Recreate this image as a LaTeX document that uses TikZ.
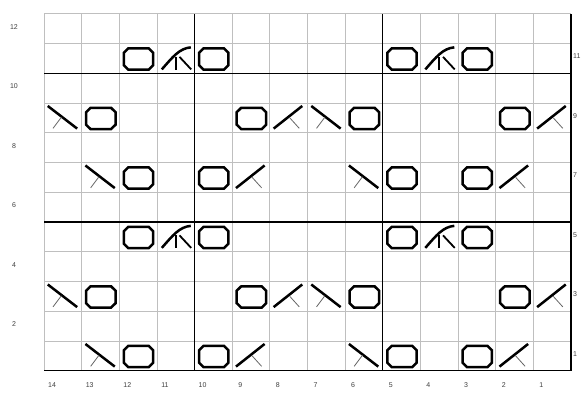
\documentclass[tikz,border=0pt]{standalone}
\usepackage{fontspec}
\setmainfont{Liberation Sans}
\begin{document}
\begin{tikzpicture}[x=1pt,y=1pt,
  gridthin/.style={draw=black!25, line width=0.8pt},
  gridthick/.style={draw=black, line width=1.3pt},
  sym/.style={line width=2.5pt, line cap=butt, line join=miter},
  symmid/.style={line width=1.8pt, line cap=butt},
  tick/.style={line width=0.8pt, draw=black!60},
  lbl/.style={font=\fontsize{7}{8}\selectfont, text=black!75, inner sep=0pt},
  cellunits/.style={x=37.643pt,y=29.75pt},
  pics/yo/.style={code={
    \draw[sym,cellunits] (0.24,0.12) -- (0.78,0.12) -- (0.9,0.27) -- (0.9,0.69)
      -- (0.78,0.84) -- (0.24,0.84) -- (0.12,0.69) -- (0.12,0.27) -- cycle;}},
  pics/ktog/.style={code={
    \draw[sym,cellunits] (0.1,0.14) -- (0.86,0.9);
    \draw[tick,cellunits] (0.53,0.5) -- (0.78,0.15);}},
  pics/sskd/.style={code={
    \draw[sym,cellunits] (0.1,0.9) -- (0.88,0.14);
    \draw[tick,cellunits] (0.46,0.52) -- (0.24,0.15);}},
  pics/cdd/.style={code={
    \draw[sym,cellunits] (0.13,0.13) .. controls (0.42,0.55) and (0.6,0.84) .. (0.9,0.87);
    \draw[symmid,cellunits] (0.5,0.55) -- (0.5,0.12);
    \draw[symmid,cellunits] (0.6,0.55) -- (0.91,0.13);}}
]
\useasboundingbox (0,0) rectangle (585,392);
\fill[white] (0,0) rectangle (585,392);
% thin grid
\foreach \i in {0,...,13} \draw[gridthin] ({44+\i*37.643},21.25) -- ++(0,357);
\foreach \j in {1,...,12} \draw[gridthin] (44,{21.25+\j*29.75}) -- ++(527,0);
% thick lines
\draw[gridthick] (44,21.25) -- (571,21.25) -- (571,378.25);
\foreach \i in {4,9} \draw[gridthick] ({44+\i*37.643},21.25) -- ++(0,357);
\foreach \j in {5,10} \draw[gridthick] (44,{21.25+\j*29.75}) -- ++(527,0);
% symbols
\foreach \c/\r in {12/11,10/11,5/11,3/11,12/5,10/5,5/5,3/5,
                   13/9,9/9,6/9,2/9,13/3,9/3,6/3,2/3,
                   12/7,10/7,5/7,3/7,12/1,10/1,5/1,3/1}
  \pic at ({44+(14-\c)*37.643},{21.25+(\r-1)*29.75}) {yo};
\foreach \c/\r in {11/11,4/11,11/5,4/5}
  \pic at ({44+(14-\c)*37.643},{21.25+(\r-1)*29.75}) {cdd};
\foreach \c/\r in {14/9,7/9,13/7,6/7,14/3,7/3,13/1,6/1}
  \pic at ({44+(14-\c)*37.643},{21.25+(\r-1)*29.75}) {sskd};
\foreach \c/\r in {8/9,1/9,9/7,2/7,8/3,1/3,9/1,2/1}
  \pic at ({44+(14-\c)*37.643},{21.25+(\r-1)*29.75}) {ktog};
% labels
\foreach \c in {1,...,14}
  \node[lbl] (c\c) at ({44+(14-\c)*37.643+8},7) {\c};
\foreach \r in {2,4,...,12}
  \node[lbl] (r\r) at (14,{21.25+(\r-0.5)*29.75+2}) {\r};
\foreach \r in {1,3,...,11}
  \node[lbl,anchor=west] (r\r) at (573,{21.25+(\r-0.5)*29.75+2}) {\r};
\end{tikzpicture}
\end{document}
